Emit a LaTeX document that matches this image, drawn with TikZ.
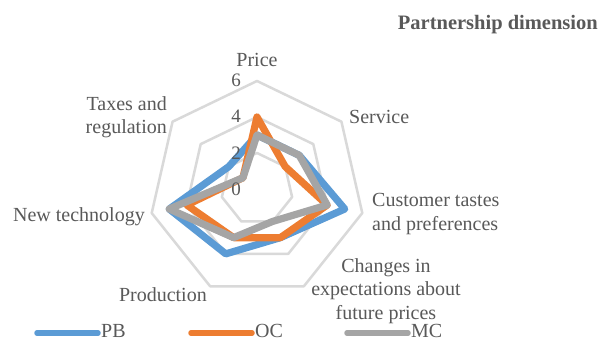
\documentclass[tikz,border=0pt]{standalone}
\usepackage{fontspec}
\setmainfont{Liberation Serif}
\definecolor{pbc}{HTML}{5B9BD5}
\definecolor{occ}{HTML}{ED7D31}
\definecolor{mcc}{HTML}{A5A5A5}
\definecolor{gridc}{HTML}{D9D9D9}
\definecolor{txt}{HTML}{595959}
\tikzset{
  lbl/.style={text=txt, font=\fontsize{20}{23.5}\selectfont, inner sep=0pt, align=center},
  tick/.style={text=txt, font=\fontsize{19}{22}\selectfont, inner sep=0pt, anchor=east},
  gridline/.style={draw=gridc, line width=2.5pt, line join=round},
  series/.style={line width=7.2pt, line join=round},
  legline/.style={line width=5.5pt, line cap=round},
}
\begin{document}
\begin{tikzpicture}[x=1pt, y=-1pt]
\useasboundingbox (0,0) rectangle (600,342);
\fill[white] (0,0) rectangle (600,342);
% title
\node[text=txt, font=\bfseries\fontsize{20.5}{24}\selectfont, anchor=base east, inner sep=0pt] (title) at (598,30) {Partnership dimension};
\begin{scope}[shift={(257,189)}, y=1pt]
  % grid
  \foreach \r in {2,4,6} {
    \draw[gridline] (90:18*\r)
      \foreach \k in {1,...,6} { -- ({90-\k*360/7}:18*\r) } -- cycle;
  }
  % series PB
  \draw[series, pbc]
    (90:18*3) -- ({90-1*360/7}:18*3) -- ({90-2*360/7}:18*5) -- ({90-3*360/7}:18*3)
    -- ({90-4*360/7}:18*4) -- ({90-5*360/7}:18*5) -- ({90-6*360/7}:18*2) -- cycle;
  % series OC
  \draw[series, occ]
    (90:18*4) -- ({90-1*360/7}:18*2) -- ({90-2*360/7}:18*4) -- ({90-3*360/7}:18*3)
    -- ({90-4*360/7}:18*3) -- ({90-5*360/7}:18*4) -- ({90-6*360/7}:18*1) -- cycle;
  % series MC
  \draw[series, mcc]
    (90:18*3) -- ({90-1*360/7}:18*3) -- ({90-2*360/7}:18*4) -- ({90-3*360/7}:18*2)
    -- ({90-4*360/7}:18*3) -- ({90-5*360/7}:18*5) -- ({90-6*360/7}:18*1) -- cycle;
\end{scope}
% tick labels
\node[tick] (t6) at (241,80) {6};
\node[tick] (t4) at (241,116) {4};
\node[tick] (t2) at (241,153) {2};
\node[tick] (t0) at (241,189) {0};
% axis labels
\node[lbl, anchor=base] (price) at (257,67) {Price};
\node[lbl, anchor=base west] (service) at (349,124) {Service};
\node[lbl, anchor=north west, align=left, font=\fontsize{20}{24.5}\selectfont] (cust) at (372,193) {Customer tastes\\and preferences};
\node[lbl, anchor=north, align=center] (chg) at (386,258) {Changes in\\expectations about\\future prices};
\node[lbl, anchor=base east] (prod) at (207,301) {Production};
\node[lbl, anchor=base east] (tech) at (145,222) {New technology};
\node[lbl, anchor=north east, align=right] (tax) at (167,96) {Taxes and\\regulation};
% legend
\coordinate (pb1) at (37,333); \coordinate (pb2) at (98,333);
\coordinate (oc1) at (191,333); \coordinate (oc2) at (252,333);
\coordinate (mc1) at (347,333); \coordinate (mc2) at (408,333);
\draw[legline, pbc] (pb1) -- (pb2);
\draw[legline, occ] (oc1) -- (oc2);
\draw[legline, mcc] (mc1) -- (mc2);
\node[lbl, anchor=base west] (lpb) at (101,337.5) {PB};
\node[lbl, anchor=base west] (loc) at (255,337.5) {OC};
\node[lbl, anchor=base west] (lmc) at (411,337.5) {MC};
\end{tikzpicture}
\end{document}
